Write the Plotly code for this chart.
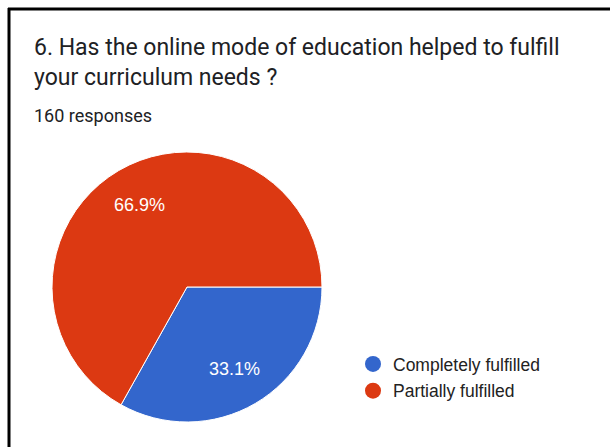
import math
import plotly.graph_objects as go

# Survey question 6: curriculum needs met by online education
labels = ["Completely fulfilled", "Partially fulfilled"]
counts = [53, 107]
colors = ["#3366cc", "#dc3912"]
total_responses = 160

title_text = "6. Has the online mode of education helped to fulfill<br>your curriculum needs ?"

W, H = 610, 447

# Pie placement in pixels (centre and radius)
CX, CY, R = 187, 287, 135
LABEL_RADIUS = 0.70

fig = go.Figure()

fig.add_trace(go.Pie(
    labels=labels,
    values=counts,
    sort=False,
    direction="clockwise",
    rotation=90,
    marker=dict(colors=colors, line=dict(color="white", width=1)),
    textinfo="none",
    hoverinfo="label+percent",
    showlegend=False,
    domain=dict(x=[(CX - R) / W, (CX + R) / W], y=[1 - (CY + R) / H, 1 - (CY - R) / H]),
))

# Legend entries drawn as circle markers
for i, (lab, col) in enumerate(zip(labels, colors)):
    fig.add_trace(go.Scatter(
        x=[None], y=[None], mode="markers", name=lab,
        marker=dict(symbol="circle", size=16, color=col),
        legendgroup=f"g{i}", showlegend=True,
    ))

# Percentage labels at the middle angle of each slice (clockwise from 3 o'clock)
annotations = []
total = sum(counts)
start = 0.0
for c in counts:
    frac = c / total
    mid = start + frac / 2
    theta = -2 * math.pi * mid
    px = CX + LABEL_RADIUS * R * math.cos(theta)
    py = CY - LABEL_RADIUS * R * math.sin(theta)
    annotations.append(dict(
        text=f"{frac * 100:.1f}%",
        xref="paper", yref="paper",
        x=px / W, y=1 - py / H,
        xanchor="center", yanchor="middle",
        showarrow=False,
        font=dict(family="Liberation Sans, Arial", size=18, color="white"),
    ))
    start += frac

annotations.append(dict(
    text=title_text,
    xref="paper", yref="paper",
    x=32 / W, xanchor="left",
    y=1 - 32 / H, yanchor="top",
    align="left",
    showarrow=False,
    font=dict(family="Roboto", size=23, color="#202124"),
))
annotations.append(dict(
    text=f"{total_responses} responses",
    xref="paper", yref="paper",
    x=32 / W, xanchor="left",
    y=1 - 103 / H, yanchor="top",
    showarrow=False,
    font=dict(family="Roboto", size=18, color="#202124"),
))

fig.update_layout(
    width=W, height=H,
    margin=dict(l=0, r=0, t=0, b=0),
    paper_bgcolor="white",
    plot_bgcolor="white",
    xaxis=dict(visible=False),
    yaxis=dict(visible=False),
    legend=dict(
        x=353 / W, xanchor="left",
        y=1 - 346 / H, yanchor="top",
        font=dict(family="Liberation Sans, Arial", size=17.5, color="#222222"),
        itemsizing="trace",
        traceorder="grouped",
        tracegroupgap=1,
        bgcolor="rgba(0,0,0,0)",
    ),
    annotations=annotations,
    shapes=[
        dict(type="line", xref="paper", yref="paper",
             x0=9 / W, x1=9 / W, y0=0, y1=1 - 8 / H,
             line=dict(color="black", width=3)),
        dict(type="line", xref="paper", yref="paper",
             x0=8 / W, x1=1, y0=1 - 9 / H, y1=1 - 9 / H,
             line=dict(color="black", width=3)),
    ],
)

fig.write_html("out.html")
